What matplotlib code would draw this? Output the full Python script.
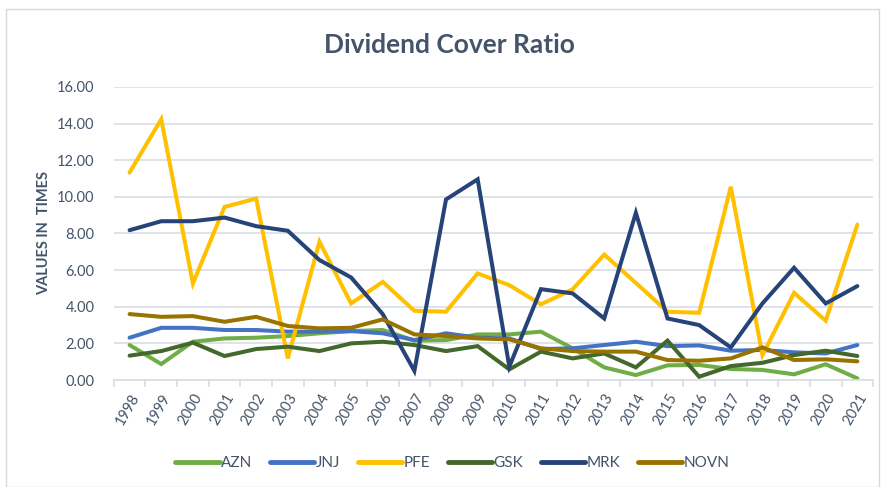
import matplotlib
matplotlib.use("Agg")
import matplotlib.pyplot as plt
from matplotlib.patches import Rectangle

plt.rcParams["font.family"] = ["Lato", "DejaVu Sans"]

years = list(range(1998, 2022))
azn = [1.91, 0.87, 2.09, 2.27, 2.31, 2.40, 2.55, 2.67, 2.73, 2.15, 2.18, 2.49,
       2.49, 2.64, 1.73, 0.69, 0.27, 0.80, 0.82, 0.60, 0.55, 0.31, 0.86, 0.09]
jnj = [2.31, 2.85, 2.85, 2.73, 2.73, 2.64, 2.64, 2.67, 2.55, 2.18, 2.55, 2.31,
       2.27, 1.69, 1.73, 1.91, 2.09, 1.85, 1.89, 1.60, 1.64, 1.51, 1.45, 1.91]
pfe = [11.33, 14.24, 5.27, 9.45, 9.91, 1.18, 7.55, 4.18, 5.36, 3.78, 3.73, 5.82,
       5.18, 4.13, 4.95, 6.85, 5.30, 3.73, 3.67, 10.55, 1.36, 4.76, 3.24, 8.49]
gsk = [1.33, 1.58, 2.04, 1.31, 1.69, 1.82, 1.58, 2.00, 2.09, 1.91, 1.58, 1.85,
       0.58, 1.55, 1.18, 1.45, 0.69, 2.15, 0.18, 0.76, 0.94, 1.36, 1.60, 1.31]
mrk = [8.18, 8.67, 8.67, 8.87, 8.40, 8.15, 6.55, 5.60, 3.60, 0.50, 9.86, 10.96,
       0.73, 4.96, 4.73, 3.36, 9.13, 3.36, 3.00, 1.78, 4.18, 6.13, 4.18, 5.13]
novn = [3.60, 3.45, 3.49, 3.18, 3.45, 2.95, 2.82, 2.85, 3.31, 2.49, 2.40, 2.27,
        2.22, 1.73, 1.58, 1.55, 1.55, 1.09, 1.05, 1.18, 1.78, 1.09, 1.13, 1.02]

series = [
    ("AZN", azn, "#70AD47"),
    ("JNJ", jnj, "#4472C4"),
    ("PFE", pfe, "#FFC000"),
    ("GSK", gsk, "#43682B"),
    ("MRK", mrk, "#264478"),
    ("NOVN", novn, "#997300"),
]

text_col = "#44546A"
grid_col = "#D9DDE5"

fig = plt.figure(figsize=(8.82, 4.87), dpi=100)
ax = fig.add_axes([0.129, 0.2197, 0.861, 0.6017])

x = list(range(len(years)))
for name, vals, col in series:
    ax.plot(x, vals, color=col, lw=2.9, label=name,
            solid_capstyle="round", solid_joinstyle="miter")

ax.set_ylim(0, 16)
ax.set_xlim(-0.5, len(years) - 0.5)
ax.set_yticks(range(0, 17, 2))
ax.set_yticklabels([f"{v:.2f}" for v in range(0, 17, 2)])
ax.set_xticks(x)
ax.set_xticklabels([str(y) for y in years], rotation=60, ha="right",
                   rotation_mode="anchor")
ax.set_xticks([i - 0.5 for i in range(len(years) + 1)], minor=True)

ax.grid(axis="y", color=grid_col, lw=1.2)
ax.set_axisbelow(True)
for s in ["top", "right", "left"]:
    ax.spines[s].set_visible(False)
ax.spines["bottom"].set_color(grid_col)
ax.spines["bottom"].set_linewidth(1.2)
ax.tick_params(axis="y", length=0, pad=14, labelsize=10.5, labelcolor=text_col)
ax.tick_params(axis="x", which="major", length=0, pad=8, labelsize=10.5,
               labelcolor=text_col)
ax.tick_params(axis="x", which="minor", length=5, color=grid_col, width=1.2)

ax.set_ylabel("VALUES IN  TIMES", fontsize=10.5, fontweight="bold",
              color=text_col, labelpad=10)
ax.yaxis.set_label_coords(-0.083, 0.5)

fig.text(0.51, 0.907, "Dividend Cover Ratio", ha="center", va="center",
         fontsize=19, fontweight="bold", color=text_col)

leg = fig.legend(loc="center", bbox_to_anchor=(0.513, 0.049), ncol=6,
                 frameon=False, fontsize=11, handlelength=2.9,
                 handletextpad=0.1, columnspacing=1.15)
for t in leg.get_texts():
    t.set_color(text_col)
for h in leg.get_lines():
    h.set_linewidth(3.5)
    h.set_solid_capstyle("round")

fig.add_artist(Rectangle((0.007, 0.0), 0.99, 0.981, transform=fig.transFigure,
                         fill=False, edgecolor="#D9D9D9", lw=1))

fig.savefig("out.png", dpi=100)
